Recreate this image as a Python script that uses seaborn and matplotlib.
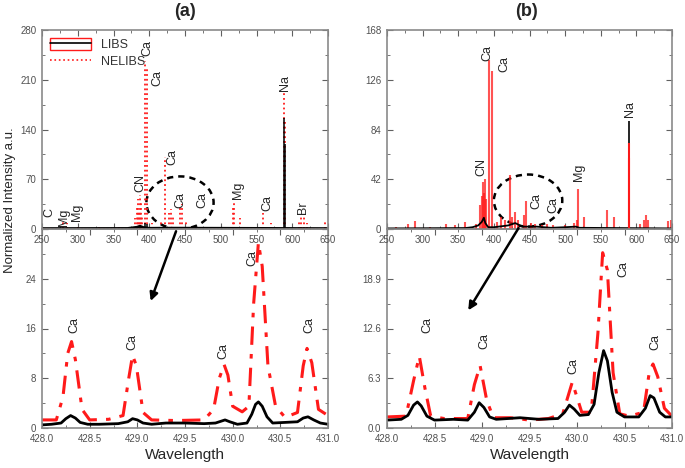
import numpy as np
import pandas as pd
import matplotlib
matplotlib.use("Agg")
import matplotlib.pyplot as plt
import seaborn as sns
from matplotlib.patches import Ellipse, Rectangle
from matplotlib.lines import Line2D
from matplotlib.ticker import MultipleLocator, AutoMinorLocator, FormatStrFormatter, FuncFormatter

# ---- (a) full spectra: spike positions (nm) and heights (a.u.)
a_nel_wl = [279.5, 285.2, 300, 330, 357, 372, 380, 383, 384.5, 386, 387.1, 388.3, 389.5,
            393.4, 396.8, 404, 410, 416, 422.7, 428, 430.3, 433, 443.5, 445.5, 452, 458,
            470, 487, 500, 517, 518.4, 527, 534, 558.9, 570, 589.0, 589.6, 610, 612.2,
            616, 620, 645.5]
a_nel_int = [10, 9, 3, 3, 4, 5, 15, 30, 42, 25, 48, 40, 20,
             237, 228, 8, 6, 10, 102, 22, 28, 20, 32, 35, 10, 6,
             6, 4, 4, 30, 39, 15, 6, 23, 8, 193, 150, 12, 18,
             20, 8, 12]
a_libs_wl = [383, 387, 393.4, 396.8, 422.7, 430, 518.4, 589.0, 589.6]
a_libs_int = [3, 5, 8, 7, 3, 2, 3, 156, 120]
a_base_wl = [250, 370, 383, 387, 392, 400, 430, 650]
a_base_int = [0.6, 0.8, 2.5, 4.0, 2.0, 1.0, 1.2, 0.6]

# ---- (b) full spectra
b_nel_wl = [262, 280, 290, 310, 333, 345, 360, 375, 381, 383, 384.5, 386, 387.5, 388.5,
            393.4, 396.8, 404, 410, 416, 422.7, 426, 430, 434, 442, 445.5, 452, 458, 468,
            475, 483, 500, 512, 516, 518.4, 527, 558.9, 568, 589.0, 589.6, 605, 610, 613,
            617, 645, 649]
b_nel_int = [2, 4, 7, 2, 4, 3, 6, 4, 20, 28, 40, 30, 42, 25,
             142.5, 133.6, 6, 10, 8, 46, 10, 14, 8, 12, 24, 5, 4, 3,
             4, 3, 3, 5, 8, 34, 10, 16, 10, 72.4, 60, 4, 8, 12,
             8, 7, 8]
b_libs_wl = [589.0, 589.6]
b_libs_int = [91.4, 70]
b_base_wl = [250, 360, 370, 378, 383, 386, 388, 392, 400, 420, 430, 440, 460, 480, 500,
             515, 520, 650]
b_base_int = [0.5, 0.8, 1.5, 3, 6, 9.5, 5, 1.5, 1.5, 3, 5, 2, 2, 1, 1.5, 2, 1, 0.5]

# ---- (a) zoom 428-431 nm
za_nel_wl = [428.0, 428.15, 428.22, 428.27, 428.31, 428.35, 428.42, 428.5, 428.7, 428.85,
             428.91, 428.95, 428.99, 429.06, 429.15, 429.4, 429.7, 429.8, 429.86, 429.91,
             429.95, 430.0, 430.1, 430.17, 430.22, 430.27, 430.31, 430.37, 430.45, 430.55,
             430.68, 430.74, 430.78, 430.83, 430.9, 431.0]
za_nel_int = [1.3, 1.3, 5.0, 12.0, 13.9, 11.0, 3.0, 1.3, 1.4, 2.0,
              8.0, 11.7, 10.0, 2.5, 1.3, 1.2, 1.3, 3.0, 8.0, 10.2,
              8.5, 3.5, 2.6, 3.5, 20.0, 29.8, 26.0, 10.0, 3.5, 1.7,
              2.5, 10.0, 12.8, 10.5, 3.0, 2.0]
za_libs_wl = [428.00, 428.10, 428.20, 428.25, 428.30, 428.35, 428.40, 428.48, 428.60, 428.80,
              428.90, 428.95, 429.00, 429.06, 429.15, 429.30, 429.50, 429.70, 429.82, 429.88,
              429.92, 429.97, 430.05, 430.15, 430.20, 430.24, 430.27, 430.31, 430.36, 430.42,
              430.55, 430.68, 430.74, 430.79, 430.85, 430.92, 431.00]
za_libs_int = [0.5, 0.6, 0.8, 1.5, 2.0, 1.6, 0.9, 0.6, 0.6, 0.7,
               1.0, 1.5, 1.3, 0.8, 0.6, 0.8, 0.8, 0.7, 0.8, 1.1,
               1.3, 1.0, 0.6, 0.8, 2.2, 3.8, 4.2, 3.5, 1.8, 0.8,
               0.9, 1.0, 1.6, 1.8, 1.3, 0.8, 0.6]

# ---- (b) zoom 428-431 nm
zb_nel_wl = [428.0, 428.2, 428.28, 428.34, 428.4, 428.46, 428.6, 428.85, 428.92, 428.98,
             429.05, 429.12, 429.3, 429.5, 429.7, 429.85, 429.95, 430.05, 430.15, 430.22,
             430.27, 430.32, 430.38, 430.45, 430.55, 430.7, 430.76, 430.8, 430.85, 430.92,
             431.0]
zb_nel_int = [1.4, 1.5, 6.0, 9.1, 5.0, 1.5, 1.2, 1.2, 5.5, 7.9,
              3.5, 1.3, 1.3, 1.0, 1.2, 1.8, 5.8, 2.0, 2.0, 12.0,
              22.2, 20.0, 7.0, 1.8, 1.5, 2.0, 7.0, 8.1, 6.5, 2.5,
              1.5]
zb_libs_wl = [428.00, 428.15, 428.22, 428.28, 428.32, 428.36, 428.42, 428.50, 428.70, 428.85,
              428.92, 428.97, 429.02, 429.08, 429.15, 429.40, 429.60, 429.80, 429.87, 429.92,
              429.97, 430.03, 430.12, 430.18, 430.23, 430.28, 430.32, 430.37, 430.42, 430.50,
              430.65, 430.72, 430.77, 430.81, 430.87, 430.93, 431.00]
zb_libs_int = [1.0, 1.1, 1.6, 2.9, 3.3, 2.8, 1.5, 1.0, 1.1, 1.0,
               2.0, 3.2, 2.6, 1.4, 1.1, 1.3, 1.1, 1.2, 2.0, 2.9,
               2.4, 1.6, 1.7, 3.0, 7.0, 9.8, 8.5, 4.5, 2.0, 1.4,
               1.4, 2.5, 4.1, 3.8, 2.0, 1.4, 1.4]

# element labels
a_top_labels = [("C", 261, 23), ("Mg", 281, 17), ("Mg", 299, 24), ("CN", 387, 65),
                ("Ca", 397, 254), ("Ca", 411, 213), ("Ca", 432, 101), ("Ca", 443, 41),
                ("Ca", 474, 41), ("Mg", 524, 55), ("Ca", 565, 37), ("Na", 590, 206),
                ("Br", 615, 30)]
b_top_labels = [("CN", 383, 52), ("Ca", 391, 149), ("Ca", 415, 139), ("Ca", 460, 24),
                ("Ca", 483, 20), ("Mg", 520, 48), ("Na", 591, 101)]
a_zoom_labels = [(428.34, 16.6), (428.95, 13.9), (429.90, 12.4), (430.21, 27.4), (430.80, 16.6)]
b_zoom_labels = [(428.42, 13.0), (429.03, 11.0), (429.96, 7.9), (430.49, 20.1), (430.82, 10.9)]

sns.set_style("ticks")
plt.rcParams["font.family"] = ["Liberation Sans", "DejaVu Sans"]

fig = plt.figure(figsize=(6.85, 4.68), dpi=100)
y_bot, y_mid, y_top = 1 - 428 / 468, 1 - 229 / 468, 1 - 30 / 468
axa_top = fig.add_axes([42 / 685, y_mid, 286 / 685, y_top - y_mid])
axa_bot = fig.add_axes([42 / 685, y_bot, 286 / 685, y_mid - y_bot])
axb_top = fig.add_axes([387 / 685, y_mid, 285 / 685, y_top - y_mid])
axb_bot = fig.add_axes([387 / 685, y_bot, 285 / 685, y_mid - y_bot])
for ax in (axa_top, axb_top):
    ax.set_zorder(3)
    ax.patch.set_alpha(0)

red = "#ff1a1a"

# (a) top
axa_top.vlines(a_nel_wl, 0, a_nel_int, colors=red, linestyles=":", lw=1.3)
axa_top.vlines(a_libs_wl, 0, a_libs_int, colors="black", lw=1.1)
sns.lineplot(x=a_base_wl, y=a_base_int, ax=axa_top, color="black", lw=2)
axa_top.plot([250, 650], [0.4, 0.4], color=red, ls=":", lw=1)
# (b) top
axb_top.vlines(b_nel_wl, 0, b_nel_int, colors=red, lw=1.5, alpha=0.75)
axb_top.vlines(b_libs_wl, 0, b_libs_int, colors="black", lw=1.2)
sns.lineplot(x=b_base_wl, y=b_base_int, ax=axb_top, color="black", lw=1.3)
axb_top.vlines(b_nel_wl[37:39], 0, b_nel_int[37:39], colors=red, lw=1.4)

# zoom panels
sns.lineplot(x=za_nel_wl, y=za_nel_int, ax=axa_bot, color=red, lw=2.2)
axa_bot.lines[-1].set_linestyle((0, (6, 3, 1.5, 3)))
sns.lineplot(x=za_libs_wl, y=za_libs_int, ax=axa_bot, color="black", lw=2)
sns.lineplot(x=zb_nel_wl, y=zb_nel_int, ax=axb_bot, color=red, lw=2.2)
axb_bot.lines[-1].set_linestyle((0, (6, 3, 1.5, 3)))
sns.lineplot(x=zb_libs_wl, y=zb_libs_int, ax=axb_bot, color="black", lw=2)

# axes limits & ticks
axa_top.set(xlim=(250, 650), ylim=(0, 280))
axb_top.set(xlim=(250, 650), ylim=(0, 168))
axa_bot.set(xlim=(428, 431), ylim=(0, 32))
axb_bot.set(xlim=(428, 431), ylim=(0, 25.2))
axa_top.yaxis.set_major_locator(MultipleLocator(70))
axb_top.yaxis.set_major_locator(MultipleLocator(42))
axa_bot.yaxis.set_major_locator(MultipleLocator(8))
axb_bot.yaxis.set_major_locator(MultipleLocator(6.3))
# top tick of the zoom panels sits under the "0" of the upper panel
axa_bot.yaxis.set_major_formatter(FuncFormatter(lambda v, p: "" if v > 31 else f"{v:.0f}"))
axb_bot.yaxis.set_major_formatter(FuncFormatter(lambda v, p: "" if v > 25 else f"{v:.1f}"))
for ax in (axa_top, axb_top):
    ax.xaxis.set_major_locator(MultipleLocator(50))
for ax in (axa_bot, axb_bot):
    ax.xaxis.set_major_locator(MultipleLocator(0.5))
    ax.xaxis.set_major_formatter(FormatStrFormatter("%.1f"))
    ax.set_facecolor("none")
    ax.set_xlabel("Wavelength", fontsize=11, labelpad=3)
    ax.set_ylabel("")
for ax in (axa_top, axb_top, axa_bot, axb_bot):
    ax.xaxis.set_minor_locator(AutoMinorLocator(2))
    ax.yaxis.set_minor_locator(AutoMinorLocator(2))
    ax.tick_params(which="both", direction="in", top=True, right=True,
                   labelsize=7, labelcolor="#505050", color="#606060")
    ax.tick_params(axis="y", pad=4)
    ax.tick_params(axis="x", pad=4)
    ax.tick_params(which="major", length=4, width=0.8)
    ax.tick_params(which="minor", length=2, width=0.6)
    for s in ax.spines.values():
        s.set_color("#8a8a8a")
        s.set_linewidth(1.2)

# element labels
for t, x, y in a_top_labels:
    axa_top.text(x, y, t, rotation=90, ha="center", va="center", fontsize=9)
for t, x, y in b_top_labels:
    axb_top.text(x, y, t, rotation=90, ha="center", va="center", fontsize=9)
for x, y in a_zoom_labels:
    axa_bot.text(x, y, "Ca", rotation=90, ha="center", va="center", fontsize=9)
for x, y in b_zoom_labels:
    axb_bot.text(x, y, "Ca", rotation=90, ha="center", va="center", fontsize=9)

# dashed circles and arrows
axa_top.add_patch(Ellipse((443, 37), 94, 74, fill=False, ls=(0, (2.5, 2)), lw=1.8, color="black"))
axb_top.add_patch(Ellipse((448, 24), 96, 44, fill=False, ls=(0, (2.5, 2)), lw=1.8, color="black"))
axa_top.annotate("", xy=(429.13, 20.0), xycoords=axa_bot.transData, xytext=(438.8, 0.5),
                 textcoords="data", annotation_clip=False,
                 arrowprops=dict(arrowstyle="-|>", color="black", lw=1.8, mutation_scale=12))
axb_top.annotate("", xy=(428.84, 14.6), xycoords=axb_bot.transData, xytext=(436.7, 2.8),
                 textcoords="data", annotation_clip=False,
                 arrowprops=dict(arrowstyle="-|>", color="black", lw=1.8, mutation_scale=12))

# legend
libs_handle = (Rectangle((0, 0), 1, 1, fill=False, edgecolor=red, lw=1),
               Line2D([], [], color="black", lw=1.2))
nel_handle = Line2D([], [], color=red, ls=":", lw=1.2)
axa_top.legend([libs_handle, nel_handle], ["LIBS", "NELIBS"], loc="upper left",
               frameon=False, fontsize=9, handlelength=3.3, handleheight=1.1,
               borderaxespad=0.2, labelspacing=0.3, labelcolor="#333333")

fig.text(185 / 685, 1 - 12 / 468, "(a)", ha="center", va="center", fontsize=13, fontweight="bold")
fig.text(527 / 685, 1 - 12 / 468, "(b)", ha="center", va="center", fontsize=13, fontweight="bold")
fig.text(10 / 685, 1 - 200 / 468, "Normalized Intensity a.u.", rotation=90,
         ha="center", va="center", fontsize=9.5)

fig.savefig("out.png", dpi=100)
